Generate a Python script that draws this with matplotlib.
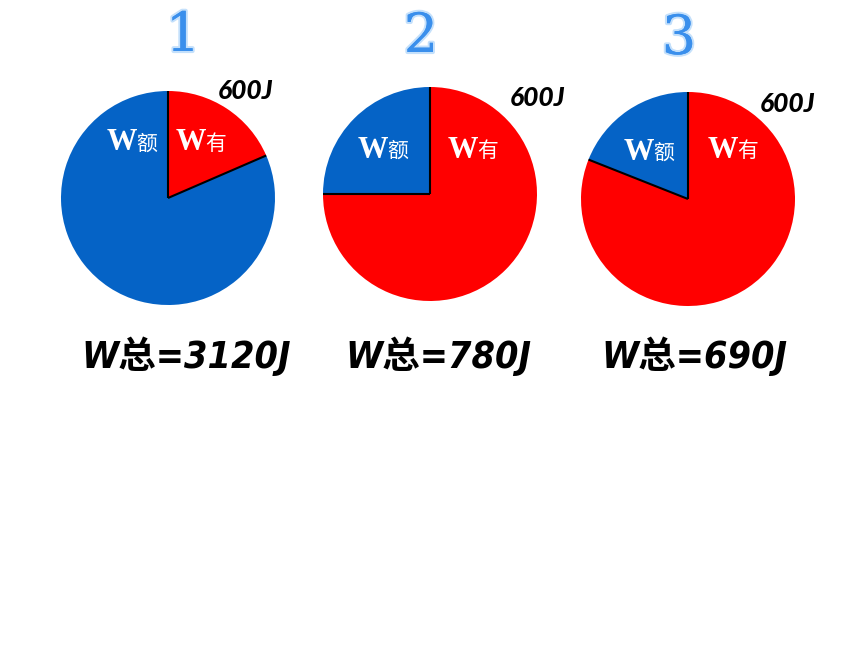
import numpy as np
import matplotlib
matplotlib.use('Agg')
import matplotlib.pyplot as plt
import matplotlib.patheffects as pe

# values
panels = ['1', '2', '3']
useful_share = [18.5, 75.0, 81.0]   # red part (W有), percent of circle
extra_share = [81.5, 25.0, 19.0]    # blue part (W额)
useful_label = ['600J', '600J', '600J']
total_label = ['W总=3120J', 'W总=780J', 'W总=690J']

RED = '#ff0000'
BLUE = '#0563c6'
H = 645

# layout (pixel positions)
centers = [(168, 198), (430, 194), (688, 199)]
radius = 107
num_xy = [(183, 36), (421, 37), (679, 39)]
e_xy = [(122, 143), (373, 150), (639, 152)]
u_xy = [(191, 143), (463, 150), (723, 150)]
j_xy = [(246, 91), (538, 98), (788, 104)]
tot_xy = [(186, 356), (438, 356), (694, 356)]

fig = plt.figure(figsize=(8.6, 6.45), dpi=100)
ax = fig.add_axes([0, 0, 1, 1])

cjk = ['Noto Sans CJK SC', 'DejaVu Sans']

def Y(py):
	return H - py

for i in range(3):
	cx, cy = centers[i]
	ax.pie([useful_share[i], extra_share[i]], colors=[RED, BLUE], startangle=90,
		counterclock=False, center=(cx, Y(cy)), radius=radius,
		wedgeprops=dict(linewidth=0))
	# black radial borders between the two parts
	ang = np.deg2rad(90 - useful_share[i] * 3.6)
	for a in [np.pi / 2, ang]:
		ax.plot([cx, cx + radius * np.cos(a)], [Y(cy), Y(cy) + radius * np.sin(a)],
			color='black', lw=1.5, solid_capstyle='butt')

	# panel number
	t = ax.text(num_xy[i][0], Y(num_xy[i][1]), panels[i], fontsize=39,
		family='DejaVu Serif', color='#3a8fec', ha='center', va='center')
	t.set_path_effects([pe.withStroke(linewidth=3, foreground='#c4e0fb'), pe.Normal()])

	# W额 / W有 inside the pie
	for (x, y), ch in [(e_xy[i], '额'), (u_xy[i], '有')]:
		ax.text(x, Y(y), 'W', fontsize=22, family='Liberation Serif', weight='bold',
			color='white', ha='center', va='center')
		ax.text(x + 25, Y(y + 1), ch, fontsize=15, family=cjk, color='white',
			ha='center', va='center')

	ax.text(j_xy[i][0], Y(j_xy[i][1]), useful_label[i], fontsize=19, family='Lato',
		weight='black', style='italic', ha='center', va='center', color='black')

	ax.text(tot_xy[i][0], Y(tot_xy[i][1]), total_label[i], fontsize=27,
		family=['DejaVu Sans', 'Noto Sans CJK SC'], stretch='condensed', weight='bold',
		style='oblique', ha='center', va='center', color='black')

ax.set_xlim(0, 860)
ax.set_ylim(0, H)
ax.set_aspect('auto')
ax.axis('off')

fig.savefig('out.png', dpi=100)
